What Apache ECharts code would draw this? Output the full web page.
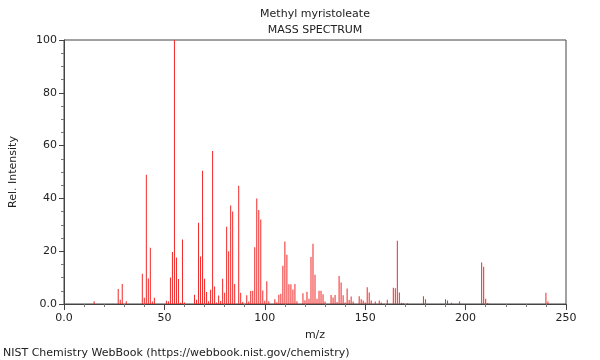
<!DOCTYPE html>
<html>
<head>
<meta charset="utf-8">
<script src="https://cdn.jsdelivr.net/npm/echarts@6/dist/echarts.min.js"></script>
<style>
html,body{margin:0;padding:0;background:#fff;}
#c{width:600px;height:360px;}
</style>
</head>
<body>
<div id="c"></div>
<script>
const titleLine1 = 'Methyl myristoleate';
const titleLine2 = 'MASS SPECTRUM';
const footer = 'NIST Chemistry WebBook (https://webbook.nist.gov/chemistry)';
const xName = 'm/z';
const yName = 'Rel. Intensity';

const mz = [15,27,28,29,31,39,40,41,42,43,44,45,51,52,53,54,55,56,57,58,59,60,
  65,66,67,68,69,70,71,72,73,74,75,76,77,78,79,80,81,82,83,84,85,87,88,89,
  91,92,93,94,95,96,97,98,99,100,101,102,105,106,107,108,109,110,111,112,113,114,115,116,
  119,120,121,122,123,124,125,126,127,128,129,130,133,134,135,136,137,138,139,140,141,142,143,144,
  147,148,149,150,151,152,153,155,157,158,161,164,165,166,167,168,169,171,
  179,180,190,191,193,197,208,209,210,211,240,241];
const intensity = [1.0,5.7,1.6,7.6,1.0,11.5,2.4,49,9.7,21.3,0.9,2.4,1.2,1.0,10,19.7,100,17.6,9.5,0.5,24.4,0.6,
  3.5,1.6,30.8,18,50.5,9.6,4.5,1.0,5.4,58,6.6,0.6,3.2,1.1,9.6,4.3,29.3,20,37.3,35,7.6,44.8,4.3,0.8,
  3.3,0.9,4.9,5.0,21.5,40,35.6,32,5.1,1.2,8.6,1.0,1.8,0.7,3.5,3.9,14.5,23.7,18.7,7.5,7.5,5.5,7.6,1.0,
  4.1,1.4,4.6,2.0,17.8,22.8,11.1,2.0,5.0,5.0,3.7,0.9,3.4,2.5,3.4,0.8,10.6,8.1,3.3,0.6,5.9,1.5,2.8,0.9,
  2.9,1.8,1.3,0.6,6.3,4.4,1.3,0.9,1.3,0.6,1.6,6.2,6.0,24,4.4,0.5,0.4,0.3,
  2.9,1.8,1.8,1.3,0.5,0.9,15.7,14.1,2.0,0.4,4.3,0.9];

const xTicks = [0, 50, 100, 150, 200, 250];
const yTicks = [0, 20, 40, 60, 80, 100];

const font = 'DejaVu Sans';
const chart = echarts.init(document.getElementById('c'), null, {renderer:'canvas'});
const fmt = v => (v === 0 ? '0.0' : String(v));

chart.setOption({
  animation: false,
  backgroundColor: '#fff',
  textStyle: {fontFamily: font},
  grid: {left: 61, right: 34, top: 40, bottom: 56, show: true, borderColor: '#444', borderWidth: 1, backgroundColor: 'transparent'},
  xAxis: {
    type: 'value', min: xTicks[0], max: xTicks[xTicks.length-1], interval: 50,
    name: xName, nameLocation: 'middle', nameGap: 26,
    nameTextStyle: {fontFamily: font, fontSize: 11, color: '#222'},
    axisLine: {show: true, lineStyle: {color: '#444'}},
    axisTick: {show: true, length: 6, lineStyle: {color: '#444'}},
    minorTick: {show: true, splitNumber: 5, length: 3, lineStyle: {color: '#777'}},
    axisLabel: {fontFamily: font, fontSize: 11, color: '#222', margin: 9, formatter: fmt},
    splitLine: {show: false}
  },
  yAxis: {
    type: 'value', min: yTicks[0], max: yTicks[yTicks.length-1], interval: 20,
    name: yName, nameLocation: 'middle', nameGap: 45, nameRotate: 90,
    nameTextStyle: {fontFamily: font, fontSize: 11, color: '#222'},
    axisLine: {show: true, lineStyle: {color: '#444'}},
    axisTick: {show: true, length: 5, lineStyle: {color: '#444'}},
    minorTick: {show: true, splitNumber: 4, length: 3, lineStyle: {color: '#777'}},
    axisLabel: {fontFamily: font, fontSize: 11, color: '#222', margin: 7, formatter: fmt},
    splitLine: {show: false}
  },
  series: [{
    type: 'bar',
    barWidth: 1,
    itemStyle: {color: 'rgb(240,40,40)'},
    data: mz.map((m, i) => [m, intensity[i]])
  }],
  graphic: [
    {type: 'text', x: 315, y: 14, style: {text: titleLine1, font: '11px "DejaVu Sans"', fill: '#222', textAlign: 'center', textVerticalAlign: 'middle'}},
    {type: 'text', x: 315, y: 30, style: {text: titleLine2, font: '11px "DejaVu Sans"', fill: '#222', textAlign: 'center', textVerticalAlign: 'middle'}},
    {type: 'text', x: 3, y: 353, style: {text: footer, font: '11px "DejaVu Sans"', fill: '#222', textAlign: 'left', textVerticalAlign: 'middle'}}
  ]
});
</script>
</body>
</html>
